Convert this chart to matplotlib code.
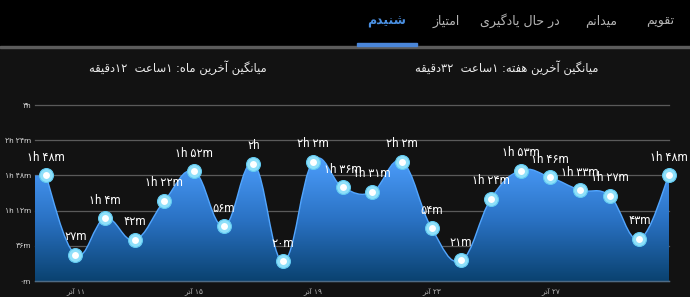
import numpy as np
import matplotlib
matplotlib.use("Agg")
import matplotlib.pyplot as plt
from matplotlib.path import Path
from matplotlib.patches import PathPatch, Rectangle
from matplotlib.colors import LinearSegmentedColormap

# minutes listened per day (10 .. 31 Azar)
minutes = [108, 27, 64, 42, 82, 112, 56, 120, 20, 122, 96, 91, 122, 54, 21, 84, 113, 106, 93, 87, 43, 108]
tick_idx = [1, 5, 9, 13, 17]
tick_days = [11, 15, 19, 23, 27]
y_ticks = [0, 36, 72, 108, 144, 180]
tabs = ["تقویم", "میدانم", "در حال یادگیری", "امتیاز", "شنیدم"]
tab_x = [660, 601, 520, 446, 387]
title_month = "میانگین آخرین ماه: ۱ساعت  ۱۲دقیقه"
title_week = "میانگین آخرین هفته: ۱ساعت  ۳۲دقیقه"

BG, TOP = "#121212", "#000000"
FA_DIG = "۰۱۲۳۴۵۶۷۸۹"

# --- minimal Persian shaping + bidi (matplotlib has none) ---
FORMS = {  # isolated, final, initial, medial
    "ا": "\uFE8D\uFE8E", "آ": "\uFE81\uFE82", "د": "\uFEA9\uFEAA", "ذ": "\uFEAB\uFEAC",
    "ر": "\uFEAD\uFEAE", "ز": "\uFEAF\uFEB0", "و": "\uFEED\uFEEE", "ژ": "\uFB8A\uFB8B",
    "ب": "\uFE8F\uFE90\uFE91\uFE92", "پ": "\uFB56\uFB57\uFB58\uFB59", "ت": "\uFE95\uFE96\uFE97\uFE98",
    "ج": "\uFE9D\uFE9E\uFE9F\uFEA0", "ح": "\uFEA1\uFEA2\uFEA3\uFEA4", "خ": "\uFEA5\uFEA6\uFEA7\uFEA8",
    "س": "\uFEB1\uFEB2\uFEB3\uFEB4", "ش": "\uFEB5\uFEB6\uFEB7\uFEB8", "ع": "\uFEC9\uFECA\uFECB\uFECC",
    "ف": "\uFED1\uFED2\uFED3\uFED4", "ق": "\uFED5\uFED6\uFED7\uFED8", "ک": "\uFB8E\uFB8F\uFB90\uFB91",
    "گ": "\uFB92\uFB93\uFB94\uFB95", "ل": "\uFEDD\uFEDE\uFEDF\uFEE0", "م": "\uFEE1\uFEE2\uFEE3\uFEE4",
    "ن": "\uFEE5\uFEE6\uFEE7\uFEE8", "ه": "\uFEE9\uFEEA\uFEEB\uFEEC", "ی": "\uFBFC\uFBFD\uFBFE\uFBFF",
}


def fa(s):
    out = []
    for i, c in enumerate(s):
        f = FORMS.get(c)
        if not f:
            out.append(c)
            continue
        prev = s[i - 1] if i > 0 else ""
        nxt = s[i + 1] if i + 1 < len(s) else ""
        jp = prev in FORMS and len(FORMS[prev]) == 4
        jn = len(f) == 4 and nxt in FORMS
        if jp and jn:
            out.append(f[3])
        elif jp:
            out.append(f[1])
        elif jn:
            out.append(f[2])
        else:
            out.append(f[0])
    # visual order: reverse, keeping digit runs left-to-right
    toks, run = [], ""
    for c in out:
        if c in FA_DIG or c.isdigit():
            run += c
        else:
            if run:
                toks.append(run); run = ""
            toks.append(c)
    if run:
        toks.append(run)
    return "".join(reversed(toks))


def fa_num(n):
    return "".join(FA_DIG[int(d)] for d in str(n))


def dur(m):
    h, mm = divmod(m, 60)
    if h and mm:
        return f"{fa_num(h)}h {fa_num(mm)}m"
    if h:
        return f"{fa_num(h)}h"
    return f"{fa_num(mm)}m"


W, H = 690, 297
fig = plt.figure(figsize=(W / 100, H / 100), dpi=100, facecolor=BG)
fx = lambda px: px / W
fy = lambda py: 1 - py / H

# top tab bar
fig.patches.append(Rectangle((0, fy(46)), 1, 46 / H, transform=fig.transFigure, color=TOP, zorder=0))
fig.patches.append(Rectangle((0, fy(48)), 1, 2 / H, transform=fig.transFigure, color="#5c5c5c", zorder=1))
fig.patches.append(Rectangle((fx(357), fy(46)), 60 / W, 3 / H, transform=fig.transFigure, color="#4a86d9", zorder=2))
for t, x in zip(tabs, tab_x):
    sel = t == "شنیدم"
    fig.text(fx(x), fy(21), fa(t), ha="center", va="center", fontsize=9,
             family="DejaVu Sans", color="#4a8fe0" if sel else "#b5b5b5",
             fontweight="bold" if sel else "normal")

fig.text(fx(178), fy(68), fa(title_month), ha="center", va="center", fontsize=8.3, color="#ececec", family="DejaVu Sans")
fig.text(fx(507), fy(68), fa(title_week), ha="center", va="center", fontsize=8.3, color="#ececec", family="DejaVu Sans")

ax = fig.add_axes([fx(35), fy(281), 634 / W, 176 / H])
ax.set_facecolor(BG)
xs = np.arange(len(minutes), dtype=float)
ys = np.array(minutes, dtype=float)
xl = -0.36
ax.set_xlim(xl, xs[-1])
ax.set_ylim(0, 180)

# cubic bezier like the app's chart (intensity 0.2)
k = 0.2
verts, codes = [(xs[0], ys[0])], [Path.MOVETO]
n = len(xs)
for j in range(1, n):
    pp, p, nx = max(j - 2, 0), j - 1, min(j + 1, n - 1)
    verts += [(xs[p] + (xs[j] - xs[pp]) * k, ys[p] + (ys[j] - ys[pp]) * k),
              (xs[j] - (xs[nx] - xs[p]) * k, ys[j] - (ys[nx] - ys[p]) * k),
              (xs[j], ys[j])]
    codes += [Path.CURVE4] * 3
line = Path(verts, codes)
fill = Path([(xl, 0), (xl, ys[0])] + verts + [(xs[-1], 0), (xl, 0)],
            [Path.MOVETO, Path.LINETO, Path.LINETO] + codes[1:] + [Path.LINETO, Path.CLOSEPOLY])

cmap = LinearSegmentedColormap.from_list("g", ["#0a4270", "#2a72c4", "#4c9dfb"])
grad = np.linspace(0, 1, 256).reshape(-1, 1)
im = ax.imshow(grad, extent=[xl, xs[-1], 0, 125], origin="lower", aspect="auto", cmap=cmap, zorder=1)
clip = PathPatch(fill, transform=ax.transData, facecolor="none", edgecolor="none")
ax.add_patch(clip)
im.set_clip_path(clip)
ax.add_patch(PathPatch(line, facecolor="none", edgecolor="#52a6ff", lw=1.0, zorder=3))
ax.set_xlim(xl, xs[-1])
ax.set_ylim(0, 180)

ax.plot(xs, ys, "o", ms=10, mfc="#8fe0fa", mec="#62cbf2", mew=0.8, zorder=4, clip_on=False)
ax.plot(xs, ys, "o", ms=5, mfc="white", mec="none", zorder=5, clip_on=False)
for x, v in zip(xs, minutes):
    ax.annotate(dur(v), (x, v), xytext=(0, 13), textcoords="offset points", ha="center", va="center",
                fontsize=8.3, color="white", family=["Roboto", "DejaVu Sans"], zorder=6)

ax.set_yticks(y_ticks)
ax.set_yticklabels([dur(v) if v else "۰m" for v in y_ticks], family=["Roboto", "DejaVu Sans"])
ax.set_xticks(tick_idx)
ax.set_xticklabels([fa(fa_num(d) + " آذر") for d in tick_days], family="DejaVu Sans")
ax.tick_params(axis="y", length=0, pad=3, labelsize=5.8, labelcolor="#cfcfcf")
ax.tick_params(axis="x", length=0, pad=4, labelsize=5.2, labelcolor="#bdbdbd")
ax.grid(axis="y", color="#5a5a5a", lw=0.9)
ax.grid(axis="x", visible=False)
for gl in ax.get_ygridlines():
    gl.set_clip_on(False)
for s in ("top", "right", "left"):
    ax.spines[s].set_visible(False)
ax.spines["bottom"].set_color("#4e6b85")
ax.spines["bottom"].set_linewidth(1)
ax.set_axisbelow(True)

fig.savefig("out.png", dpi=100, facecolor=BG)
